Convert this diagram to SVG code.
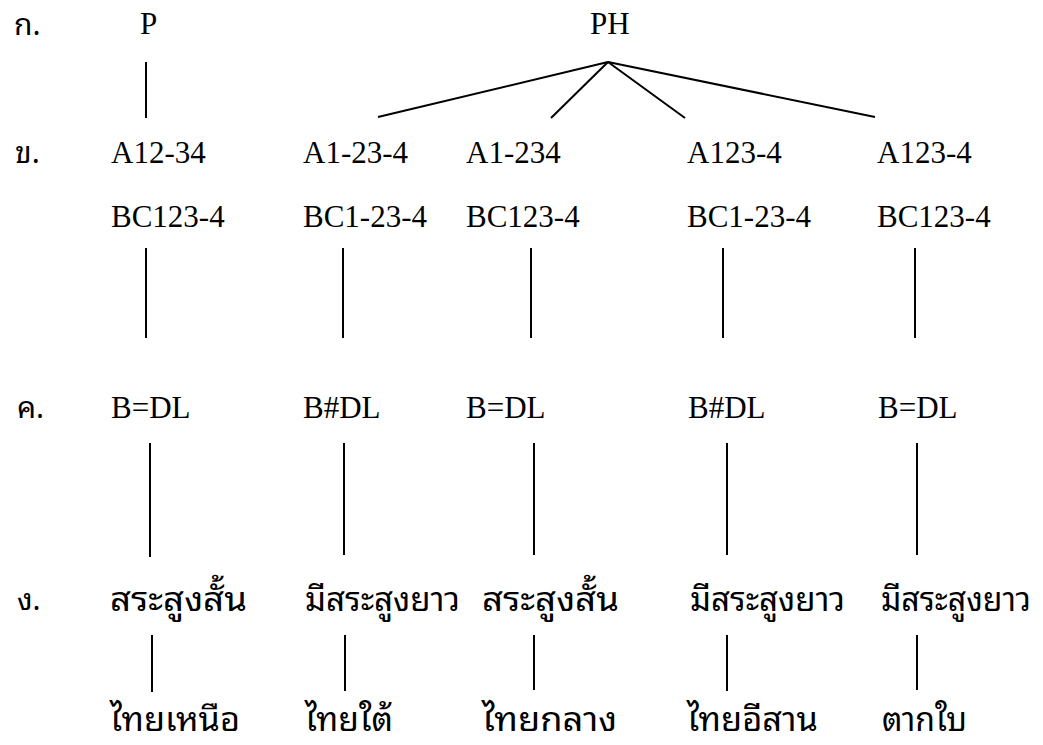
<svg xmlns="http://www.w3.org/2000/svg" width="1043" height="745" viewBox="0 0 1043 745">
<style>
.t{font-family:"Liberation Serif","Times New Roman",serif;font-size:31px;fill:#000}
.th{font-family:"Noto Sans Thai Looped","Kinnari","Norasi","Garuda","Loma","Noto Sans Thai","Liberation Serif",serif;font-size:33px;fill:#000}
.lb{font-family:"Noto Sans Thai Looped","Kinnari","Norasi","Garuda","Loma","Noto Sans Thai","Liberation Serif",serif;font-size:30px;fill:#000}
.c line{stroke:#000;stroke-width:2;fill:none}
</style>
<rect width="1043" height="745" fill="#fff"/>
<g id="row-labels">
<text class="lb" x="14" y="35">ก.</text>
<text class="lb" x="15" y="163">ข.</text>
<text class="lb" x="17" y="418">ค.</text>
<text class="lb" x="17" y="610">ง.</text>
</g>
<g id="n-P"><text class="t" x="140" y="34">P</text></g>
<g id="n-PH"><text class="t" x="590" y="34">PH</text></g>
<g id="n-b1"><text class="t" x="111" y="163">A12-34</text><text class="t" x="111" y="227">BC123-4</text></g>
<g id="n-b2"><text class="t" x="303" y="163">A1-23-4</text><text class="t" x="303" y="227">BC1-23-4</text></g>
<g id="n-b3"><text class="t" x="466" y="163">A1-234</text><text class="t" x="466" y="227">BC123-4</text></g>
<g id="n-b4"><text class="t" x="687" y="163">A123-4</text><text class="t" x="687" y="227">BC1-23-4</text></g>
<g id="n-b5"><text class="t" x="877" y="163">A123-4</text><text class="t" x="877" y="227">BC123-4</text></g>
<g id="n-c1"><text class="t" x="111" y="418">B=DL</text></g>
<g id="n-c2"><text class="t" x="303" y="418">B#DL</text></g>
<g id="n-c3"><text class="t" x="466" y="418">B=DL</text></g>
<g id="n-c4"><text class="t" x="688" y="418">B#DL</text></g>
<g id="n-c5"><text class="t" x="878" y="418">B=DL</text></g>
<g id="n-d1"><text class="th" x="110" y="611" textLength="137" lengthAdjust="spacingAndGlyphs">สระสูงสั้น</text></g>
<g id="n-d2"><text class="th" x="305" y="611" textLength="155" lengthAdjust="spacingAndGlyphs">มีสระสูงยาว</text></g>
<g id="n-d3"><text class="th" x="482" y="611" textLength="137" lengthAdjust="spacingAndGlyphs">สระสูงสั้น</text></g>
<g id="n-d4"><text class="th" x="690" y="611" textLength="155" lengthAdjust="spacingAndGlyphs">มีสระสูงยาว</text></g>
<g id="n-d5"><text class="th" x="881" y="611" textLength="150" lengthAdjust="spacingAndGlyphs">มีสระสูงยาว</text></g>
<g id="n-e1"><text class="th" x="110" y="731" textLength="130" lengthAdjust="spacingAndGlyphs">ไทยเหนือ</text></g>
<g id="n-e2"><text class="th" x="305" y="731" textLength="88" lengthAdjust="spacingAndGlyphs">ไทยใต้</text></g>
<g id="n-e3"><text class="th" x="482" y="731" textLength="135" lengthAdjust="spacingAndGlyphs">ไทยกลาง</text></g>
<g id="n-e4"><text class="th" x="687" y="731" textLength="131" lengthAdjust="spacingAndGlyphs">ไทยอีสาน</text></g>
<g id="n-e5"><text class="th" x="882" y="731" textLength="85" lengthAdjust="spacingAndGlyphs">ตากใบ</text></g>
<g id="connectors" class="c">
<line x1="146" y1="62" x2="146" y2="118"/>
<line x1="608" y1="62" x2="378" y2="117"/>
<line x1="608" y1="62" x2="551" y2="118"/>
<line x1="608" y1="62" x2="685" y2="118"/>
<line x1="608" y1="62" x2="875" y2="117"/>
<line x1="146" y1="248" x2="146" y2="338"/>
<line x1="343" y1="248" x2="343" y2="338"/>
<line x1="531" y1="248" x2="531" y2="338"/>
<line x1="723" y1="248" x2="723" y2="338"/>
<line x1="915" y1="248" x2="915" y2="338"/>
<line x1="150" y1="443" x2="150" y2="557"/>
<line x1="344" y1="443" x2="344" y2="555"/>
<line x1="534" y1="443" x2="534" y2="555"/>
<line x1="727" y1="443" x2="727" y2="555"/>
<line x1="917" y1="443" x2="917" y2="555"/>
<line x1="152" y1="635" x2="152" y2="692"/>
<line x1="345" y1="635" x2="345" y2="691"/>
<line x1="534" y1="635" x2="534" y2="690"/>
<line x1="727" y1="635" x2="727" y2="691"/>
<line x1="917" y1="635" x2="917" y2="690"/>
</g>
</svg>
